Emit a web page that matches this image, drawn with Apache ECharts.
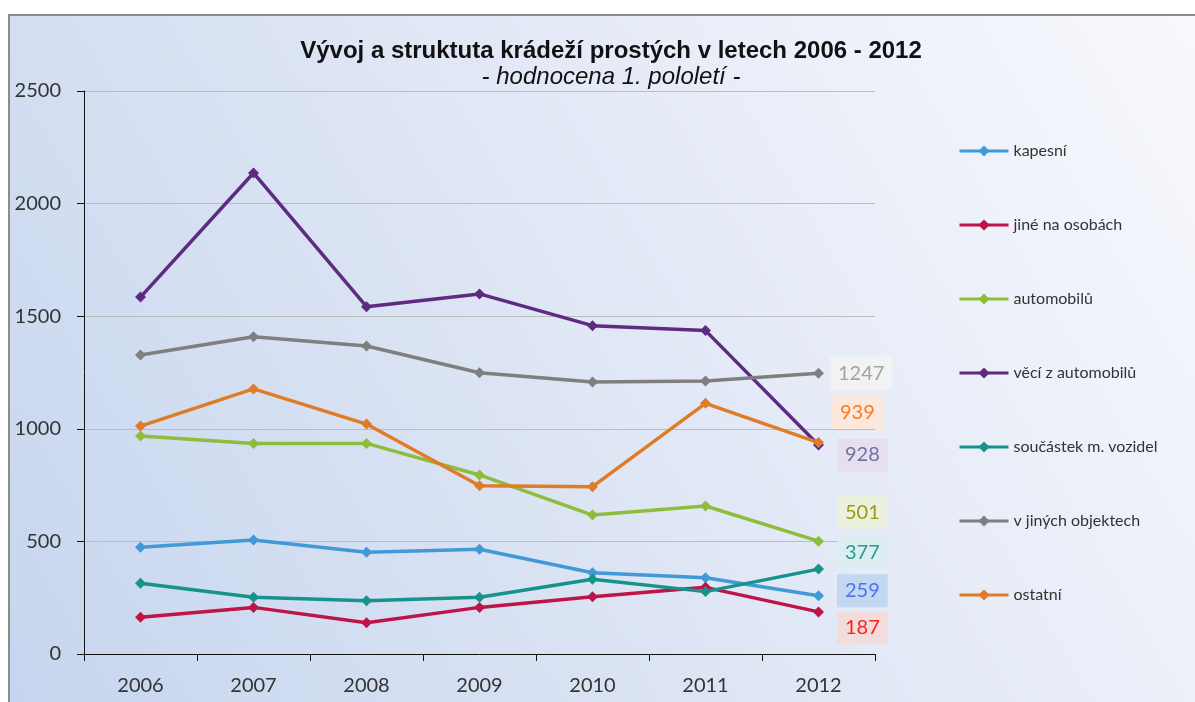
<!DOCTYPE html>
<html>
<head>
<meta charset="utf-8">
<script src="https://cdn.jsdelivr.net/npm/echarts@6/dist/echarts.min.js"></script>
<style>
  html, body { margin: 0; padding: 0; background: #fff; }
  #chart { width: 1195px; height: 702px; }
</style>
</head>
<body>
<div id="chart"></div>
<script>
// roky (1. pololetí)
const years = ['2006', '2007', '2008', '2009', '2010', '2011', '2012'];

const kapesni      = [474, 506, 452, 465, 361, 339, 259];
const jineNaOsobach = [163, 207, 139, 207, 254, 296, 187];
const automobilu   = [968, 935, 935, 795, 617, 657, 501];
const veciZAut     = [1585, 2136, 1542, 1599, 1458, 1436, 928];
const soucastek    = [314, 252, 237, 252, 332, 277, 377];
const vJinychObj   = [1328, 1409, 1368, 1249, 1208, 1212, 1247];
const ostatni      = [1012, 1177, 1021, 747, 743, 1113, 939];

const seriesNames = ['kapesní', 'jiné na osobách', 'automobilů', 'věcí z automobilů',
    'součástek m. vozidel', 'v jiných objektech', 'ostatní'];
const seriesData = [kapesni, jineNaOsobach, automobilu, veciZAut, soucastek, vJinychObj, ostatni];
const lineColors = ['#4299d8', '#be1448', '#8dbd3a', '#5e2b80', '#16938a', '#7f7f7f', '#e07b26'];

// popisky posledního bodu (2012): barva textu, pozadí, posun
const lblColors = ['#4a72f5', '#ff1f1f', '#9a9a20', '#7171a3', '#2a9c94', '#a3a3a3', '#fa7a2a'];
const lblBg     = ['rgba(190,212,240,0.85)', 'rgba(244,218,217,0.9)', 'rgba(236,242,220,0.9)',
    'rgba(228,222,236,0.9)', 'rgba(218,238,242,0.9)', 'rgba(243,243,243,0.9)', 'rgba(253,233,217,0.9)'];
const lblOffset = [[13, -5], [13, 16], [13, -29], [13, 10], [13, -17], [6, 0], [8, -30]];

const font = 'Lato, "Open Sans", sans-serif';

let chart = echarts.init(document.getElementById('chart'));

let series = seriesNames.map((name, i) => {
    let vals = seriesData[i];
    return {
        name: name,
        type: 'line',
        symbol: 'diamond',
        symbolSize: 11,
        color: lineColors[i],
        lineStyle: { width: 3.5, color: lineColors[i] },
        itemStyle: { color: lineColors[i] },
        z: 3,
        data: vals.map((v, j) => {
            if (j < vals.length - 1) return v
            return {
                value: v,
                label: {
                    show: true,
                    position: 'right',
                    distance: 0,
                    offset: lblOffset[i],
                    fontFamily: font,
                    fontSize: 20,
                    color: lblColors[i],
                    backgroundColor: lblBg[i],
                    padding: [7, 8, 6, 8]
                }
            }
        })
    }
});

let option = {
    animation: false,
    graphic: [{
        type: 'rect',
        z: -10,
        shape: { x: 9, y: 15, width: 1200, height: 700 },
        style: {
            fill: new echarts.graphic.LinearGradient(1, 0, 0, 1, [
                { offset: 0, color: '#f8f9fd' },
                { offset: 0.5, color: '#e0e7f5' },
                { offset: 1, color: '#c6d5ee' }
            ]),
            stroke: '#8c8c8c',
            lineWidth: 2
        }
    }],
    title: {
        text: 'Vývoj a struktuta krádeží prostých v letech 2006 - 2012',
        subtext: '- hodnocena 1. pololetí -',
        left: 606,
        top: 34,
        textAlign: 'center',
        itemGap: 2,
        textStyle: {
            fontFamily: '"Liberation Sans", Arial, sans-serif',
            fontSize: 24,
            fontWeight: 'bold',
            color: '#111'
        },
        subtextStyle: {
            fontFamily: '"Liberation Sans", Arial, sans-serif',
            fontSize: 24,
            fontStyle: 'italic',
            color: '#111'
        }
    },
    legend: {
        orient: 'vertical',
        left: 953,
        top: 138,
        itemWidth: 49,
        itemHeight: 14,
        itemGap: 58,
        lineStyle: { width: 3 },
        textStyle: { fontFamily: font, fontSize: 16, color: '#333' },
        data: seriesNames
    },
    grid: { left: 84, right: 320, top: 91, bottom: 48 },
    xAxis: {
        type: 'category',
        data: years,
        boundaryGap: true,
        axisLine: { lineStyle: { color: '#111', width: 1 } },
        axisTick: { show: true, length: 7, interval: 0, lineStyle: { color: '#111' } },
        axisLabel: { fontFamily: font, fontSize: 20, color: '#333', margin: 22 }
    },
    yAxis: {
        type: 'value',
        min: 0,
        max: 2500,
        interval: 500,
        axisLine: { show: true, lineStyle: { color: '#111', width: 1 } },
        axisTick: { show: true, length: 7, lineStyle: { color: '#111' } },
        axisLabel: { fontFamily: font, fontSize: 20, color: '#333', margin: 23, formatter: v => String(v) },
        splitLine: { lineStyle: { color: '#bdbdbd', width: 1 } }
    },
    series: series
};

chart.setOption(option);
</script>
</body>
</html>
